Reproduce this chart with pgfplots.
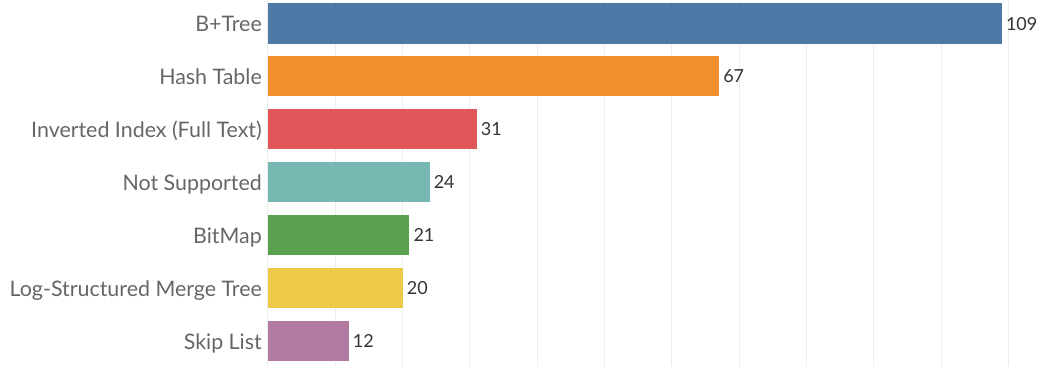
\documentclass[border=0pt]{standalone}
\usepackage{pgfplots}
\pgfplotsset{compat=1.18}
\usepackage{fontspec}
\setmainfont{Lato}
\definecolor{c1}{HTML}{4E79A7}
\definecolor{c2}{HTML}{F28E2B}
\definecolor{c3}{HTML}{E15759}
\definecolor{c4}{HTML}{76B7B2}
\definecolor{c5}{HTML}{59A14F}
\definecolor{c6}{HTML}{EDC948}
\definecolor{c7}{HTML}{B07AA1}
\definecolor{lab}{HTML}{666666}
\definecolor{val}{HTML}{333333}
\definecolor{grid}{HTML}{EDEDED}
\begin{document}
\begin{tikzpicture}
\begin{axis}[
  name=ax,
  /pgf/number format/assume math mode=true,
  scale only axis, width=777pt, height=366pt,
  xmin=0, xmax=115.4, ymin=-0.434, ymax=6.472,
  y dir=reverse,
  xbar, bar width=0.755, bar shift=0pt,
  axis line style={draw=none},
  major tick length=0pt,
  xtick={0,10,...,110}, xticklabels={},
  xmajorgrids, grid style={color=grid, line width=1pt},
  ytick={0,1,2,3,4,5,6},
  yticklabels={B+Tree, Hash Table, Inverted Index (Full Text), Not Supported, BitMap, Log-Structured Merge Tree, Skip List},
  yticklabel style={font=\fontsize{21.4}{24}\selectfont, color=lab, anchor=east, inner sep=0pt, xshift=-6pt, text height=15.4pt, text depth=0pt},
  nodes near coords,
  nodes near coords style={font=\fontsize{18}{21}\selectfont, color=val, anchor=west, inner sep=0pt, xshift=4pt, text height=13pt, text depth=0pt},
]
\addplot[fill=c1, draw=none] coordinates {(109,0)};
\addplot[fill=c2, draw=none] coordinates {(67,1)};
\addplot[fill=c3, draw=none] coordinates {(31,2)};
\addplot[fill=c4, draw=none] coordinates {(24,3)};
\addplot[fill=c5, draw=none] coordinates {(21,4)};
\addplot[fill=c6, draw=none] coordinates {(20,5)};
\addplot[fill=c7, draw=none] coordinates {(12,6)};
\end{axis}
\path ([xshift=-268pt]ax.south west) rectangle (ax.north east);
\end{tikzpicture}
\end{document}
